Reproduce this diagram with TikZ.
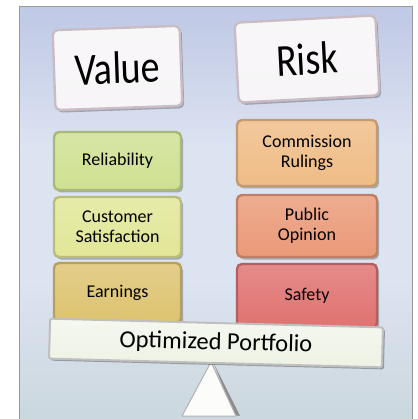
\documentclass[tikz,border=0pt]{standalone}
\usepackage{fontspec}
\setmainfont{Carlito}
\usetikzlibrary{shadows}
\definecolor{bgtop}{HTML}{94A0D3}
\definecolor{bgmid}{HTML}{DCE3F1}
\definecolor{bglow}{HTML}{C6D4D8}
\definecolor{bgbot}{HTML}{A5B8B5}
\definecolor{cval}{HTML}{F7F5F7}
\definecolor{cvalb}{HTML}{C9BCC4}
\definecolor{crel}{HTML}{CFE091}
\definecolor{ccus}{HTML}{E1E697}
\definecolor{cear}{HTML}{DDC370}
\definecolor{ccom}{HTML}{EFBC86}
\definecolor{cpub}{HTML}{EA9A78}
\definecolor{csaf}{HTML}{DF7270}
\definecolor{cbeam}{HTML}{EEF2E4}
\pgfdeclareverticalshading{bgshade}{100bp}{color(0bp)=(bgbot); color(20bp)=(bglow); color(42bp)=(bgmid); color(58bp)=(bgmid); color(100bp)=(bgtop)}
\tikzset{
  tile/.style={rounded corners=5pt, line width=2.4pt, draw=#1!82!black,
    top color=#1!82!white, bottom color=#1, shading angle=0,
    drop shadow={shadow xshift=2pt, shadow yshift=-2.5pt, fill=black, opacity=0.25},
    font=\fontsize{18}{20}\selectfont, align=center, text=black, inner sep=0pt},
  bigtile/.style={tile=#1, draw=cvalb, font=\fontsize{38}{40}\selectfont},
}
\begin{document}
\begin{tikzpicture}[x=1pt,y=-1pt]
\useasboundingbox (0,0) rectangle (417,419);
\fill[white] (0,0) rectangle (417,419);
\shade[shading=bgshade, draw=gray!80, line width=1pt] (19.5,6.5) rectangle (412,422);
% header tiles
\node[bigtile=cval, minimum width=127pt, minimum height=80pt, rotate=2] (value) at (117.5,68) {\scalebox{1}[1.2]{Value}};
\node[bigtile=cval, minimum width=141pt, minimum height=80pt, rotate=3] (risk) at (307,59) {\scalebox{1}[1.2]{Risk}};
% value column
\node[tile=crel, minimum width=127pt, minimum height=58pt] (rel) at (117.5,161) {Reliability};
\node[tile=ccus, minimum width=127pt, minimum height=60pt] (cus) at (117.5,227) {Customer\\Satisfaction};
\node[tile=cear, minimum width=127pt, minimum height=60pt] (ear) at (117.5,293) {Earnings};
% risk column
\node[tile=ccom, minimum width=140pt, minimum height=66pt] (com) at (307,153) {Commission\\Rulings};
\node[tile=cpub, minimum width=140pt, minimum height=62pt] (pub) at (307,226) {Public\\Opinion};
\node[tile=csaf, minimum width=140pt, minimum height=64pt] (saf) at (307,296) {Safety};
% fulcrum
\coordinate (apex) at (211,362);
\coordinate (bl) at (182,416);
\coordinate (br) at (236,416);
\fill[black!45] (apex) ++(3,2) -- ([xshift=4pt]br) -- ([xshift=-2pt,yshift=1pt]br) -- cycle;
\filldraw[fill=white!85!cbeam, draw=black!30, line width=1pt, line join=round] (apex) -- (br) -- (bl) -- cycle;
% beam
\node[rounded corners=2pt, line width=2pt, draw=black!25, top color=cbeam!60!white, bottom color=cbeam,
  drop shadow={shadow xshift=2pt, shadow yshift=-2pt, fill=black, opacity=0.3},
  minimum width=333pt, minimum height=40pt, rotate=-1.5, inner sep=0pt,
  font=\fontsize{24.5}{26}\selectfont, text=black] (beam) at (216,343) {Optimized Portfolio};
\end{tikzpicture}
\end{document}
